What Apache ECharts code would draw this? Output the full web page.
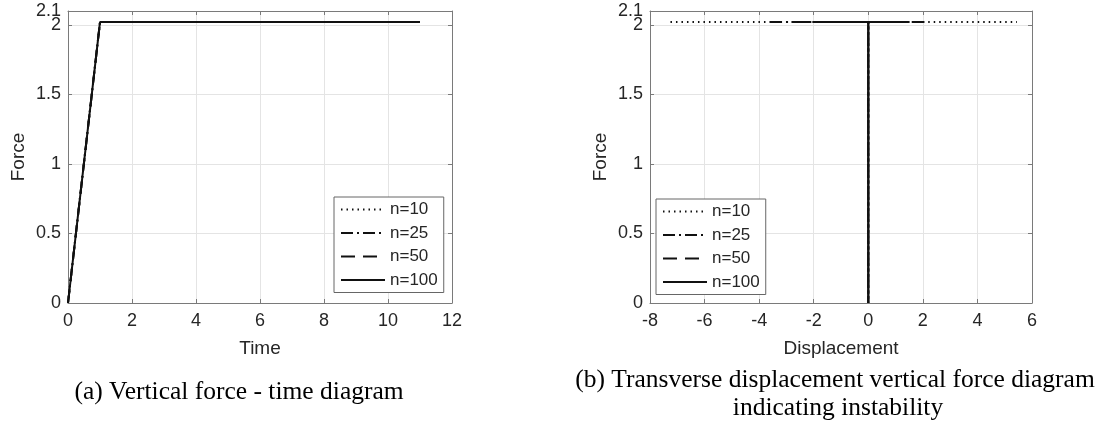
<!DOCTYPE html>
<html>
<head>
<meta charset="utf-8">
<script src="https://cdn.jsdelivr.net/npm/echarts@6/dist/echarts.min.js"></script>
<style>
html,body{margin:0;padding:0;background:#fff;}
#c{width:1105px;height:429px;}
</style>
</head>
<body>
<div id="c"></div>
<script>
// ---- data ----
const seriesNames = ['n=10', 'n=25', 'n=50', 'n=100'];
const timeValues = [0, 1, 11];
const timeForce = [0, 2.02, 2.02];
const peakForce = 2.02;
const dispMin = [-7.25, -3.6, -2.6, -2.05];
const dispMax = [5.45, 2.1, 1.8, 1.42];
const timeTicks = { min: 0, max: 12, interval: 2 };
const dispTicks = { min: -8, max: 6, interval: 2 };
const forceTicks = { min: 0, max: 2.1, interval: 0.5 };
const forceTickLabels = [0, 0.5, 1, 1.5, 2];
const forceTopLabel = [2.1];

// ---- styles ----
const dashTypes = [[1.5, 4], [12, 4, 2, 4], [14, 8], 'solid'];
const axisCol = '#7a7a7a';
const labelCol = '#262626';
const sans = 'Liberation Sans';

function mainX(grid, t, name) {
  return {
    type: 'value', gridIndex: grid, min: t.min, max: t.max, interval: t.interval,
    name: name, nameLocation: 'middle', nameGap: 36,
    nameTextStyle: { fontFamily: sans, fontSize: 19, color: labelCol },
    axisLine: { onZero: false, lineStyle: { color: axisCol, width: 1 } },
    axisTick: { inside: true, length: 4, lineStyle: { color: axisCol } },
    axisLabel: { fontFamily: sans, fontSize: 18, color: labelCol, margin: 9 },
    splitLine: { show: true, lineStyle: { color: '#e4e4e4', width: 1 } }
  };
}
function ghostX(grid, t) {
  return {
    type: 'value', gridIndex: grid, position: 'top', min: t.min, max: t.max, interval: t.interval,
    axisLine: { onZero: false, lineStyle: { color: axisCol, width: 1 } },
    axisTick: { inside: true, length: 4, lineStyle: { color: axisCol } },
    axisLabel: { show: false }, splitLine: { show: false }
  };
}
function mainY(grid) {
  return {
    type: 'value', gridIndex: grid, min: forceTicks.min, max: forceTicks.max, interval: forceTicks.interval,
    name: 'Force', nameLocation: 'middle', nameGap: 40,
    nameTextStyle: { fontFamily: sans, fontSize: 19, color: labelCol },
    axisLine: { show: true, onZero: false, lineStyle: { color: axisCol, width: 1 } },
    axisTick: { show: true, inside: true, length: 4, lineStyle: { color: axisCol }, customValues: forceTickLabels },
    axisLabel: { fontFamily: sans, fontSize: 18, color: labelCol, margin: 7, customValues: forceTickLabels,
      hideOverlap: false, showMaxLabel: true, showMinLabel: true },
    splitLine: { show: true, lineStyle: { color: '#e4e4e4', width: 1 } }
  };
}
function topLabelY(grid) {
  return {
    type: 'value', gridIndex: grid, position: 'left', min: forceTicks.min, max: forceTicks.max, interval: forceTicks.interval,
    axisLine: { show: false, onZero: false }, axisTick: { show: false },
    axisLabel: { fontFamily: sans, fontSize: 18, color: labelCol, margin: 7, customValues: forceTopLabel,
      hideOverlap: false, showMaxLabel: true },
    splitLine: { show: false }
  };
}
function ghostY(grid) {
  return {
    type: 'value', gridIndex: grid, position: 'right', min: forceTicks.min, max: forceTicks.max, interval: forceTicks.interval,
    axisLine: { show: true, onZero: false, lineStyle: { color: axisCol, width: 1 } },
    axisTick: { show: true, inside: true, length: 4, lineStyle: { color: axisCol } },
    axisLabel: { show: false }, splitLine: { show: false }
  };
}

const series = [];
seriesNames.forEach((nm, i) => {
  series.push({
    name: nm, type: 'line', xAxisIndex: 0, yAxisIndex: 0, symbol: 'none', animation: false,
    data: timeValues.map((t, k) => [t, timeForce[k]]),
    itemStyle: { color: '#111' },
    lineStyle: { color: '#111', width: 2, type: dashTypes[i] }, z: 2 + i
  });
});
seriesNames.forEach((nm, i) => {
  series.push({
    name: nm, type: 'line', xAxisIndex: 1, yAxisIndex: 1, symbol: 'none', animation: false,
    data: [[dispMin[i], peakForce], [0, peakForce], [0, 0], [0, peakForce], [dispMax[i], peakForce]],
    itemStyle: { color: '#111' },
    lineStyle: { color: '#111', width: 2, type: dashTypes[i] }, z: 2 + i
  });
});

function legend(left, top) {
  return {
    data: seriesNames, orient: 'vertical', left: left, top: top,
    itemWidth: 44, itemHeight: 14, itemGap: 6.5,
    padding: [4, 6, 4, 6],
    borderColor: '#666', borderWidth: 1, backgroundColor: '#fff',
    itemStyle: { opacity: 0 },
    textStyle: { fontFamily: sans, fontSize: 17, color: labelCol, lineHeight: 17 },
    selectedMode: false
  };
}

const chart = echarts.init(document.getElementById('c'));
chart.setOption({
  backgroundColor: '#fff',
  animation: false,
  grid: [
    { left: 68, top: 11, width: 384, height: 292 },
    { left: 650, top: 11, width: 382, height: 292 }
  ],
  xAxis: [mainX(0, timeTicks, 'Time'), mainX(1, dispTicks, 'Displacement'), ghostX(0, timeTicks), ghostX(1, dispTicks)],
  yAxis: [mainY(0), mainY(1), ghostY(0), ghostY(1), topLabelY(0), topLabelY(1)],
  legend: [legend(334, 197), legend(656, 199)],
  series: series,
  graphic: [
    { type: 'text', style: { x: 239, y: 392, text: '(a) Vertical force - time diagram', fontFamily: 'Liberation Serif', fontSize: 25.5, fill: '#000', textAlign: 'center', textVerticalAlign: 'middle' } },
    { type: 'text', style: { x: 835, y: 380, text: '(b) Transverse displacement vertical force diagram', fontFamily: 'Liberation Serif', fontSize: 25.5, fill: '#000', textAlign: 'center', textVerticalAlign: 'middle' } },
    { type: 'text', style: { x: 838, y: 408, text: 'indicating instability', fontFamily: 'Liberation Serif', fontSize: 25.5, fill: '#000', textAlign: 'center', textVerticalAlign: 'middle' } }
  ]
});
</script>
</body>
</html>
